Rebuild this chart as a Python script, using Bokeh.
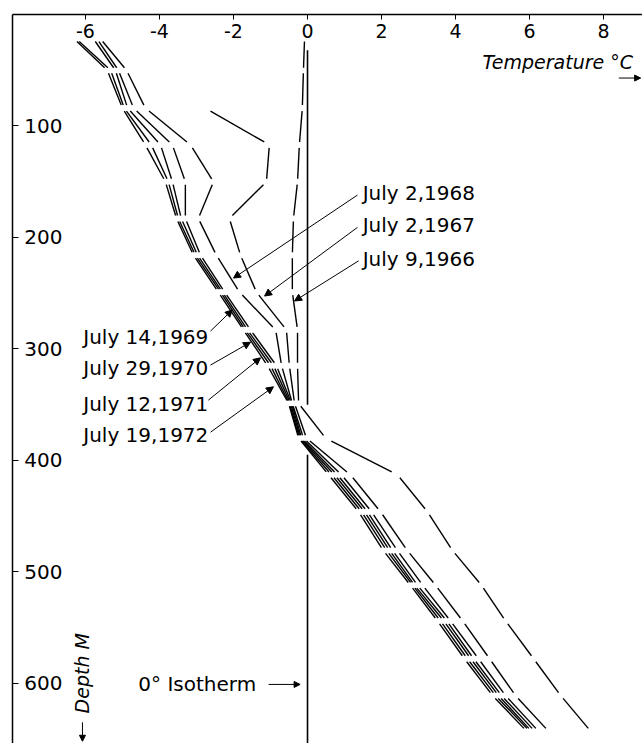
import numpy as np
from bokeh.plotting import figure
from bokeh.models import Range1d, FixedTicker, Label, Arrow, NormalHead, ColumnDataSource, PrintfTickFormatter
from bokeh.embed import file_html
from bokeh.resources import INLINE

# ---------------- data ----------------
DEPTH = [22, 50, 84, 117, 150, 183, 216, 249, 283, 315, 349, 380, 413, 446, 481, 512, 544, 578, 611, 643]

T_1966 = [-0.08, -0.11, -0.14, -0.22, -0.27, -0.38, -0.41, -0.41, -0.27, -0.27, -0.24, 0.49, 2.43, 3.24, 3.92, 4.70, 5.35, 6.11, 6.84, 7.65]
T_1967 = [np.nan, np.nan, -2.76, -1.03, -1.11, -2.11, -1.81, -1.38, -0.57, -0.49, -0.35, -0.03, 1.16, 1.97, 2.70, 3.46, 4.19, 4.92, 5.62, 6.51]
T_1968 = [-5.59, -4.89, -4.38, -3.16, -2.54, -2.95, -2.46, -1.84, -0.86, -0.70, -0.41, -0.11, 0.92, 1.73, 2.43, 3.11, 3.86, 4.62, 5.35, 6.24]
T_1969 = [-5.68, -5.11, -4.70, -3.65, -3.30, -3.30, -2.89, -2.24, -1.54, -0.84, -0.43, -0.16, 0.81, 1.62, 2.30, 2.97, 3.76, 4.49, 5.24, 6.14]
T_1970 = [-5.78, -5.19, -4.86, -3.97, -3.65, -3.41, -2.97, -2.30, -1.62, -0.92, -0.46, -0.19, 0.73, 1.54, 2.22, 2.89, 3.68, 4.41, 5.16, 6.05]
T_1971 = [-6.24, -5.32, -4.95, -4.22, -3.76, -3.49, -3.03, -2.35, -1.68, -1.00, -0.49, -0.22, 0.65, 1.46, 2.14, 2.84, 3.59, 4.32, 5.08, 6.00]
T_1972 = [-6.30, -5.41, -5.00, -4.38, -3.84, -3.54, -3.08, -2.41, -1.73, -1.08, -0.51, -0.24, 0.57, 1.38, 2.05, 2.78, 3.51, 4.24, 5.00, 5.92]

PROFILES = [T_1966, T_1967, T_1968, T_1969, T_1970, T_1971, T_1972]

LABELS_RIGHT = ["July 2,1968", "July 2,1967", "July 9,1966"]
LABELS_LEFT = ["July 14,1969", "July 29,1970", "July 12,1971", "July 19,1972"]

X_TICKS = [-6, -4, -2, 0, 2, 4, 6, 8]
Y_TICKS = [100, 200, 300, 400, 500, 600]

ISOTHERM_T = 0
ISOTHERM_TOP = [32, 395]
ISOTHERM_BOTTOM = [350, 660]

# ---------------- figure ----------------
FONT = "DejaVu Sans"
p = figure(width=642, height=743, x_range=Range1d(-7.97, 9.05), y_range=Range1d(654, 0),
           x_axis_location="above", toolbar_location=None, output_backend="svg",
           min_border_left=12, min_border_top=14, min_border_right=0, min_border_bottom=0)
p.outline_line_color = None
p.xgrid.visible = False
p.ygrid.visible = False
p.background_fill_color = "white"
p.border_fill_color = "white"

xa = p.xaxis[0]
xa.ticker = FixedTicker(ticks=X_TICKS)
xa.formatter = PrintfTickFormatter(format="%d")
xa.major_tick_in = 5
xa.major_tick_out = 0
xa.minor_tick_in = 0
xa.minor_tick_out = 0
xa.major_label_standoff = -23
xa.major_label_text_font = FONT
xa.major_label_text_font_size = "19px"
xa.major_label_text_color = "black"
xa.axis_line_width = 1.5
xa.axis_line_color = "black"
xa.major_tick_line_color = "black"

ya = p.yaxis[0]
ya.ticker = FixedTicker(ticks=Y_TICKS)
ya.major_tick_in = 6
ya.major_tick_out = 0
ya.minor_tick_in = 0
ya.minor_tick_out = 0
ya.major_label_standoff = -50
ya.major_label_text_font = FONT
ya.major_label_text_font_size = "20px"
ya.major_label_text_color = "black"
ya.axis_line_width = 1.5
ya.axis_line_color = "black"
ya.major_tick_line_color = "black"

# 0 deg isotherm
p.segment(x0=[ISOTHERM_T] * 2, y0=ISOTHERM_TOP, x1=[ISOTHERM_T] * 2, y1=ISOTHERM_BOTTOM,
          line_color="black", line_width=1.6)

# profiles: one dash per interval between measured depths (gap at each vertex)
GAP = 0.08
x0s, y0s, x1s, y1s = [], [], [], []
d = np.array(DEPTH, dtype=float)
for prof in PROFILES:
    t = np.array(prof, dtype=float)
    for i in range(len(d) - 1):
        if np.isnan(t[i]) or np.isnan(t[i + 1]):
            continue
        dx, dy = t[i + 1] - t[i], d[i + 1] - d[i]
        x0s.append(t[i] + GAP * dx); y0s.append(d[i] + GAP * dy)
        x1s.append(t[i + 1] - GAP * dx); y1s.append(d[i + 1] - GAP * dy)
src = ColumnDataSource(dict(x0=x0s, y0=y0s, x1=x1s, y1=y1s))
p.segment("x0", "y0", "x1", "y1", source=src, line_color="black", line_width=1.4)

# labels with leader arrows
def add_label(text, x, y, align, size="20px", style="normal", angle=0.0, baseline="middle"):
    p.add_layout(Label(x=x, y=y, text=text, text_align=align, text_baseline=baseline,
                       text_font=FONT, text_font_size=size, text_font_style=style,
                       text_color="black", angle=angle))

def add_arrow(xs, ys, xe, ye, size=7, width=1.0):
    p.add_layout(Arrow(x_start=xs, y_start=ys, x_end=xe, y_end=ye, line_width=width,
                       line_color="black",
                       end=NormalHead(size=size, fill_color="black", line_color="black")))

right_pos = [(1.49, 160), (1.49, 189), (1.49, 219)]
right_lead = [((1.35, 162), (-2.0, 236.5)), ((1.35, 191), (-1.16, 252.6)), ((1.38, 221), (-0.35, 257))]
for txt, (x, y), (s, e) in zip(LABELS_RIGHT, right_pos, right_lead):
    add_label(txt, x, y, "left")
    add_arrow(s[0], s[1], e[0], e[1])

left_pos = [(-2.68, 289), (-2.68, 317), (-2.68, 349), (-2.68, 377)]
left_lead = [((-2.62, 284), (-2.03, 265)), ((-2.62, 314.5), (-1.54, 294)),
             ((-2.68, 346), (-1.27, 308)), ((-2.62, 374.7), (-0.92, 334))]
for txt, (x, y), (s, e) in zip(LABELS_LEFT, left_pos, left_lead):
    add_label(txt, x, y, "right")
    add_arrow(s[0], s[1], e[0], e[1])

# axis titles
add_label("Temperature °C", 4.73, 42.5, "left", size="19px", style="italic")
add_arrow(8.41, 57, 9.0, 57, size=6)
add_label("Depth M", -6.08, 627, "left", size="19px", style="italic", angle=np.pi / 2)
add_arrow(-6.08, 635, -6.08, 652, size=6)
add_label("0° Isotherm", -4.57, 601, "left")
add_arrow(-1.05, 601, -0.2, 601, size=6)

open("out.html", "w").write(file_html(p, INLINE))
